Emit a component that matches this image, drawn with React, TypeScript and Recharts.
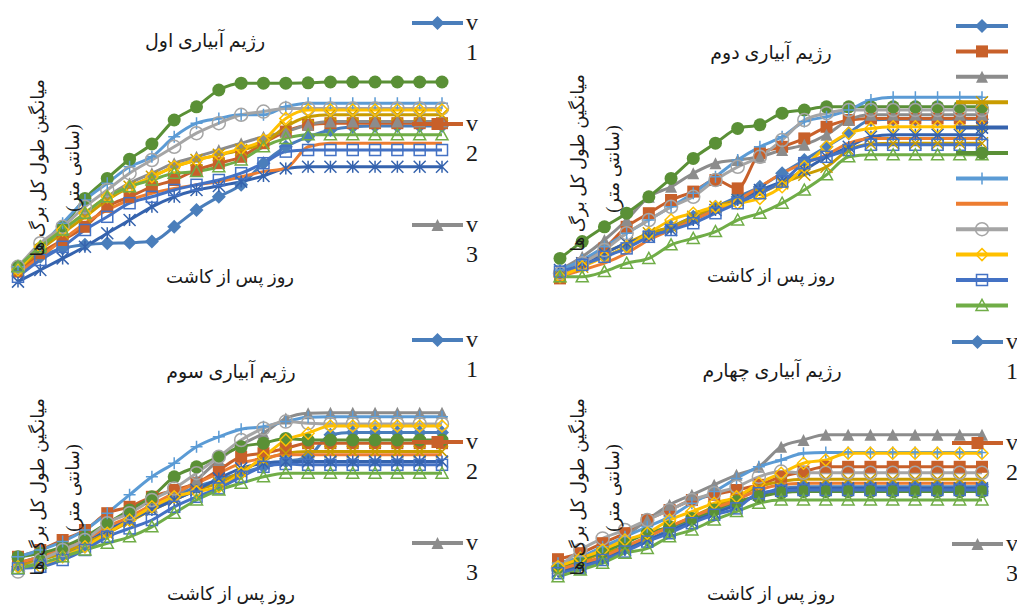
import { Line, LineChart, XAxis, YAxis } from "recharts";

// days after planting (axis labels are not shown in the figure)
const days = ["1", "2", "3", "4", "5", "6", "7", "8", "9", "10", "11", "12", "13", "14", "15", "16", "17", "18", "19", "20"];

// ---- irrigation regime 1 (mean total leaf length, cm)
const r1v1 = [4.6, 8.3, 10.4, 11.3, 11.7, 11.8, 12.1, 15.8, 20.0, 23.3, 26.3, 31.7, 35.8, 38.3, 40.0, 40.8, 41.0, 41.0, 41.0, 41.0];
const r1v2 = [4.6, 9.2, 12.5, 15.8, 20.8, 23.3, 25.8, 27.5, 30.0, 31.7, 33.3, 36.7, 39.6, 41.3, 41.7, 41.7, 41.7, 41.7, 41.7, 41.7];
const r1v3 = [5.8, 10.8, 15.0, 19.2, 23.3, 26.7, 29.2, 31.7, 33.3, 35.0, 36.7, 38.3, 39.6, 41.3, 42.1, 42.1, 42.1, 42.1, 42.1, 42.1];
const r1v4 = [5.0, 10.0, 14.2, 18.3, 22.5, 25.8, 28.3, 30.8, 32.5, 33.8, 35.0, 36.7, 40.8, 43.3, 43.8, 43.8, 43.8, 43.8, 43.8, 43.8];
const r1v5 = [2.1, 5.0, 7.9, 10.8, 14.2, 17.5, 20.8, 23.3, 25.0, 26.0, 27.1, 28.5, 30.4, 30.8, 30.8, 30.8, 30.8, 30.8, 30.8, 30.8];
const r1v6 = [5.8, 10.4, 15.8, 22.9, 27.9, 32.7, 36.5, 42.5, 45.8, 50.0, 51.7, 51.7, 51.7, 51.8, 52.0, 52.0, 52.0, 52.0, 52.0, 52.0];
const r1v7 = [5.8, 10.8, 16.7, 22.5, 26.7, 30.8, 33.3, 38.3, 41.7, 42.9, 43.8, 43.8, 45.8, 46.7, 46.7, 46.7, 46.7, 46.7, 46.7, 46.7];
const r1v8 = [4.2, 8.3, 12.5, 16.7, 20.0, 22.5, 24.2, 25.4, 26.3, 27.1, 28.3, 29.6, 30.4, 35.8, 36.7, 36.7, 36.7, 36.7, 36.7, 36.7];
const r1v9 = [5.8, 11.7, 15.8, 20.8, 25.0, 29.2, 32.5, 35.8, 39.2, 41.7, 43.8, 44.6, 45.4, 45.4, 45.4, 45.4, 45.4, 45.4, 45.4, 45.4];
const r1v10 = [5.0, 10.8, 15.0, 19.2, 23.3, 25.8, 28.3, 30.8, 32.5, 33.8, 35.4, 37.5, 42.9, 45.0, 45.0, 45.0, 45.0, 45.0, 45.0, 45.0];
const r1v11 = [3.3, 7.5, 10.8, 15.0, 18.3, 21.7, 23.3, 25.0, 26.3, 27.5, 29.2, 31.7, 34.6, 35.0, 35.0, 35.0, 35.0, 35.0, 35.0, 35.0];
const r1v12 = [5.8, 10.8, 15.0, 19.2, 23.3, 25.8, 27.5, 29.2, 29.6, 30.8, 32.5, 35.8, 37.9, 38.8, 38.8, 38.8, 38.8, 38.8, 38.8, 38.8];

// ---- irrigation regime 2
const r2v1 = [4.2, 6.3, 8.3, 10.8, 13.8, 15.8, 18.3, 20.8, 23.3, 25.8, 29.2, 32.5, 35.8, 39.2, 42.5, 42.7, 42.7, 42.7, 42.7, 42.7];
const r2v2 = [2.9, 6.7, 10.4, 15.8, 19.2, 22.5, 24.6, 27.5, 25.4, 34.2, 35.8, 37.9, 40.8, 42.5, 42.9, 42.9, 42.9, 42.9, 42.9, 42.9];
const r2v3 = [5.0, 8.3, 12.5, 17.5, 23.3, 25.8, 29.2, 31.7, 32.5, 33.3, 35.0, 36.3, 38.8, 42.5, 43.8, 43.8, 43.8, 43.8, 43.8, 43.8];
const r2v4 = [3.3, 5.8, 9.2, 11.7, 14.2, 15.8, 18.3, 20.8, 22.5, 24.2, 26.7, 28.8, 30.8, 35.0, 36.5, 36.7, 36.7, 36.7, 36.7, 36.7];
const r2v5 = [5.0, 6.7, 9.2, 11.7, 13.3, 15.0, 17.5, 20.0, 22.5, 25.0, 27.1, 30.0, 33.3, 35.8, 38.3, 38.8, 38.8, 38.8, 38.8, 38.8];
const r2v6 = [7.9, 12.1, 15.8, 19.2, 23.3, 27.9, 32.9, 36.7, 40.4, 41.3, 44.2, 45.0, 45.8, 45.8, 45.8, 45.8, 45.8, 45.8, 45.8, 45.8];
const r2v7 = [5.0, 7.5, 10.8, 14.2, 17.5, 20.8, 24.2, 28.3, 32.5, 35.8, 38.3, 42.1, 43.3, 45.0, 47.5, 48.2, 48.2, 48.2, 48.2, 48.2];
const r2v8 = [3.3, 5.0, 6.7, 9.2, 12.5, 15.0, 17.5, 20.0, 22.5, 25.8, 29.2, 31.7, 33.8, 36.7, 37.9, 37.9, 37.9, 37.9, 37.9, 37.9];
const r2v9 = [4.2, 6.7, 10.0, 14.2, 17.5, 20.8, 23.3, 27.5, 30.8, 33.3, 37.5, 42.5, 44.2, 45.0, 45.0, 45.0, 45.0, 45.0, 45.0, 45.0];
const r2v10 = [3.3, 5.8, 8.3, 10.8, 14.2, 17.5, 19.2, 20.8, 21.7, 22.9, 25.8, 30.8, 35.8, 39.2, 40.4, 40.8, 40.8, 40.8, 40.8, 40.8];
const r2v11 = [4.6, 6.3, 8.3, 10.4, 13.3, 15.0, 16.7, 19.2, 21.7, 24.2, 27.1, 31.7, 33.3, 35.0, 36.3, 36.3, 36.3, 36.3, 36.3, 36.3];
const r2v12 = [3.3, 3.3, 4.6, 6.7, 7.9, 11.3, 12.9, 14.6, 17.5, 19.2, 21.7, 25.0, 28.8, 33.3, 33.8, 33.8, 33.8, 33.8, 33.8, 33.8];

// ---- irrigation regime 3
const r3v1 = [10.3, 12.0, 13.7, 15.3, 18.7, 22.0, 25.3, 27.8, 30.3, 32.0, 33.7, 35.3, 36.6, 37.8, 43.3, 43.9, 43.9, 43.9, 43.9, 43.9];
const r3v2 = [12.8, 14.5, 17.0, 19.5, 23.7, 25.3, 27.8, 29.5, 31.2, 34.5, 37.8, 38.7, 39.9, 41.2, 41.2, 41.2, 41.2, 41.2, 41.2, 41.2];
const r3v3 = [11.2, 12.8, 15.3, 17.0, 19.5, 22.8, 25.3, 27.8, 32.0, 37.0, 40.8, 43.7, 47.4, 48.7, 48.8, 48.8, 48.8, 48.8, 48.8, 48.8];
const r3v4 = [10.8, 12.0, 13.7, 16.2, 18.7, 21.6, 24.5, 27.0, 29.5, 31.2, 34.1, 37.0, 38.7, 39.1, 39.1, 39.1, 39.1, 39.1, 39.1, 39.1];
const r3v5 = [11.2, 12.8, 14.5, 17.0, 19.5, 22.0, 24.5, 27.0, 29.5, 32.4, 34.9, 36.2, 36.6, 36.6, 36.6, 36.6, 36.6, 36.6, 36.6, 36.6];
const r3v6 = [12.8, 13.7, 15.3, 17.8, 21.2, 24.5, 27.8, 32.8, 35.3, 37.8, 40.3, 41.2, 42.4, 42.0, 42.0, 42.0, 42.0, 42.0, 42.0, 42.0];
const r3v7 = [12.8, 14.5, 16.6, 19.5, 23.7, 28.3, 32.8, 36.2, 40.3, 42.8, 44.7, 45.3, 46.6, 47.7, 47.8, 47.8, 47.8, 47.8, 47.8, 47.8];
const r3v8 = [11.2, 12.8, 14.5, 17.0, 20.3, 22.8, 25.8, 28.7, 31.2, 33.7, 36.2, 37.4, 38.3, 38.3, 38.3, 38.3, 38.3, 38.3, 38.3, 38.3];
const r3v9 = [9.1, 12.0, 14.5, 17.0, 21.2, 23.7, 27.0, 29.9, 33.7, 37.8, 42.0, 44.9, 46.6, 46.2, 46.0, 46.0, 46.0, 46.0, 46.0, 46.0];
const r3v10 = [10.3, 10.3, 12.8, 15.3, 18.7, 22.0, 25.3, 27.8, 29.1, 30.3, 33.7, 37.8, 42.0, 43.7, 45.5, 45.5, 45.5, 45.5, 45.5, 45.5];
const r3v11 = [9.9, 10.3, 12.0, 14.5, 17.8, 19.9, 22.0, 25.3, 27.8, 29.9, 32.8, 35.3, 36.0, 35.8, 35.8, 35.8, 35.8, 35.8, 35.8, 35.8];
const r3v12 = [9.9, 11.2, 12.8, 14.5, 16.2, 17.8, 20.3, 23.7, 27.0, 29.5, 31.2, 32.8, 33.7, 33.7, 33.7, 33.7, 33.7, 33.7, 33.7, 33.7];

// ---- irrigation regime 4
const r4v1 = [9.5, 10.8, 12.8, 14.9, 17.0, 19.5, 22.0, 24.1, 26.2, 28.3, 29.9, 30.3, 30.3, 30.3, 30.3, 30.3, 30.3, 30.3, 30.3, 30.3];
const r4v2 = [12.2, 13.7, 16.2, 18.7, 22.0, 24.5, 27.0, 28.3, 29.5, 30.8, 32.8, 34.1, 35.3, 35.3, 35.3, 35.3, 35.3, 35.3, 35.3, 35.3];
const r4v3 = [10.3, 12.0, 14.5, 17.8, 22.0, 25.8, 28.3, 30.8, 33.3, 35.3, 40.3, 42.0, 43.3, 43.3, 43.3, 43.3, 43.3, 43.3, 43.3, 43.3];
const r4v4 = [9.9, 11.6, 13.7, 15.3, 17.8, 20.3, 22.8, 25.3, 27.8, 30.3, 31.6, 32.2, 32.2, 32.2, 32.2, 32.2, 32.2, 32.2, 32.2, 32.2];
const r4v5 = [9.1, 10.3, 12.4, 14.5, 17.0, 19.1, 21.6, 23.7, 25.8, 28.3, 29.5, 29.9, 29.9, 29.9, 29.9, 29.9, 29.9, 29.9, 29.9, 29.9];
const r4v6 = [9.9, 12.0, 14.1, 16.2, 18.7, 20.3, 22.4, 24.5, 26.6, 27.8, 28.8, 29.1, 29.1, 29.1, 29.1, 29.1, 29.1, 29.1, 29.1, 29.1];
const r4v7 = [11.2, 12.8, 15.3, 17.8, 20.3, 22.8, 26.2, 29.1, 32.4, 35.3, 37.0, 38.7, 38.9, 38.9, 38.9, 38.9, 38.9, 38.9, 38.9, 38.9];
const r4v8 = [9.5, 11.2, 12.8, 15.3, 17.8, 20.3, 22.8, 24.9, 27.0, 29.5, 30.8, 31.2, 31.2, 31.2, 31.2, 31.2, 31.2, 31.2, 31.2, 31.2];
const r4v9 = [9.9, 14.5, 17.4, 19.5, 22.0, 24.5, 27.0, 28.7, 30.3, 32.8, 34.1, 33.8, 33.8, 33.8, 33.8, 33.8, 33.8, 33.8, 33.8, 33.8];
const r4v10 = [10.3, 12.4, 14.5, 17.0, 18.7, 22.0, 24.1, 26.2, 27.8, 31.2, 33.7, 36.2, 37.0, 38.7, 38.7, 38.7, 38.7, 38.7, 38.7, 38.7];
const r4v11 = [8.7, 9.9, 12.0, 14.1, 16.6, 18.7, 21.2, 23.3, 24.9, 28.7, 29.3, 29.5, 29.5, 29.5, 29.5, 29.5, 29.5, 29.5, 29.5, 29.5];
const r4v12 = [7.8, 9.5, 11.2, 13.7, 14.9, 17.8, 19.5, 22.0, 24.1, 26.2, 27.0, 27.0, 27.0, 27.0, 27.0, 27.0, 27.0, 27.0, 27.0, 27.0];

const regimeTitles = ["رژیم آبیاری اول", "رژیم آبیاری دوم", "رژیم آبیاری سوم", "رژیم آبیاری چهارم"];
const xTitle = "روز پس از کاشت";
const yTitle1 = "میانگین طول کل برگ ها";
const yTitle2 = "(سانتی متر)";

type Shape =
  | "diamond" | "square" | "triangle" | "x" | "star" | "circle"
  | "plus" | "none" | "ocircle" | "odiamond" | "osquare" | "otriangle";

const SERIES: { key: string; label: string; color: string; shape: Shape }[] = [
  { key: "v1", label: "v 1", color: "#4A7EBB", shape: "diamond" },
  { key: "v2", label: "v 2", color: "#C8602A", shape: "square" },
  { key: "v3", label: "v 3", color: "#8C8C8C", shape: "triangle" },
  { key: "v4", label: "v 4", color: "#C99C00", shape: "x" },
  { key: "v5", label: "v 5", color: "#3563AE", shape: "star" },
  { key: "v6", label: "v 6", color: "#5A9036", shape: "circle" },
  { key: "v7", label: "v 7", color: "#5B9BD5", shape: "plus" },
  { key: "v8", label: "v 8", color: "#ED7D31", shape: "none" },
  { key: "v9", label: "v 9", color: "#A5A5A5", shape: "ocircle" },
  { key: "v10", label: "v 10", color: "#FFC000", shape: "odiamond" },
  { key: "v11", label: "v 11", color: "#4472C4", shape: "osquare" },
  { key: "v12", label: "v 12", color: "#70AD47", shape: "otriangle" },
];

function buildRows(series: number[][]) {
  return days.map((day, i) => {
    const row: Record<string, string | number> = { day };
    SERIES.forEach((s, j) => {
      row[s.key] = series[j][i];
    });
    return row;
  });
}

const rows1 = buildRows([r1v1, r1v2, r1v3, r1v4, r1v5, r1v6, r1v7, r1v8, r1v9, r1v10, r1v11, r1v12]);
const rows2 = buildRows([r2v1, r2v2, r2v3, r2v4, r2v5, r2v6, r2v7, r2v8, r2v9, r2v10, r2v11, r2v12]);
const rows3 = buildRows([r3v1, r3v2, r3v3, r3v4, r3v5, r3v6, r3v7, r3v8, r3v9, r3v10, r3v11, r3v12]);
const rows4 = buildRows([r4v1, r4v2, r4v3, r4v4, r4v5, r4v6, r4v7, r4v8, r4v9, r4v10, r4v11, r4v12]);

const PERSIAN_FONT = "'Times New Roman', 'Liberation Serif', 'DejaVu Sans', serif";

function Marker({ shape, cx, cy, color }: { shape: Shape; cx: number; cy: number; color: string }) {
  const s = 6;
  const sw = 1.5;
  switch (shape) {
    case "diamond":
      return <polygon points={`${cx},${cy - s - 1} ${cx + s + 1},${cy} ${cx},${cy + s + 1} ${cx - s - 1},${cy}`} fill={color} />;
    case "square":
      return <rect x={cx - s} y={cy - s} width={2 * s} height={2 * s} fill={color} />;
    case "triangle":
      return <polygon points={`${cx},${cy - s} ${cx + s},${cy + s} ${cx - s},${cy + s}`} fill={color} />;
    case "x":
      return (
        <path d={`M${cx - s},${cy - s}L${cx + s},${cy + s}M${cx - s},${cy + s}L${cx + s},${cy - s}`} stroke={color} strokeWidth={sw} fill="none" />
      );
    case "star":
      return (
        <path
          d={`M${cx - s},${cy - s}L${cx + s},${cy + s}M${cx - s},${cy + s}L${cx + s},${cy - s}M${cx},${cy - s}L${cx},${cy + s}`}
          stroke={color}
          strokeWidth={sw}
          fill="none"
        />
      );
    case "circle":
      return <circle cx={cx} cy={cy} r={s + 0.5} fill={color} />;
    case "plus":
      return <path d={`M${cx},${cy - s}L${cx},${cy + s}M${cx - s},${cy}L${cx + s},${cy}`} stroke={color} strokeWidth={sw} fill="none" />;
    case "ocircle":
      return <circle cx={cx} cy={cy} r={s + 0.5} fill="none" stroke={color} strokeWidth={sw} />;
    case "odiamond":
      return (
        <polygon points={`${cx},${cy - s} ${cx + s},${cy} ${cx},${cy + s} ${cx - s},${cy}`} fill="none" stroke={color} strokeWidth={sw} />
      );
    case "osquare":
      return <rect x={cx - s + 0.5} y={cy - s + 0.5} width={2 * s - 1} height={2 * s - 1} fill="none" stroke={color} strokeWidth={sw} />;
    case "otriangle":
      return (
        <polygon points={`${cx},${cy - s} ${cx + s},${cy + s - 1} ${cx - s},${cy + s - 1}`} fill="none" stroke={color} strokeWidth={sw} />
      );
    default:
      return null;
  }
}

function Panel({
  left,
  top,
  marginLeft,
  rows,
}: {
  left: number;
  top: number;
  marginLeft: number;
  rows: Record<string, string | number>[];
}) {
  return (
    <div style={{ position: "absolute", left, top }}>
      <LineChart width={460} height={300} data={rows} margin={{ top: 50, right: 18, bottom: 10, left: marginLeft }}>
        <XAxis dataKey="day" hide />
        <YAxis hide domain={[0, 60]} />
        {SERIES.map((s) => (
          <Line
            key={s.key}
            dataKey={s.key}
            type="monotone"
            stroke={s.color}
            strokeWidth={3}
            activeDot={false}
            isAnimationActive={false}
            dot={(p: any) => (
              <g key={`${s.key}-${p.index}`}>
                <Marker shape={s.shape} cx={p.cx} cy={p.cy} color={s.color} />
              </g>
            )}
          />
        ))}
      </LineChart>
    </div>
  );
}

function Label({ x, y, text, size = 18, rotate = false }: { x: number; y: number; text: string; size?: number; rotate?: boolean }) {
  return (
    <div
      dir="rtl"
      style={{
        position: "absolute",
        left: x,
        top: y,
        transform: `translate(-50%, -50%)${rotate ? " rotate(-90deg)" : ""}`,
        fontFamily: PERSIAN_FONT,
        fontSize: size,
        color: "#1a1a1a",
        whiteSpace: "nowrap",
        lineHeight: 1,
      }}
    >
      {text}
    </div>
  );
}

function LegendEntry({ x1, x2, y, idx }: { x1: number; x2: number; y: number; idx: number }) {
  const s = SERIES[idx];
  return (
    <g>
      <line x1={x1} x2={x2} y1={y} y2={y} stroke={s.color} strokeWidth={4} />
      <Marker shape={s.shape} cx={(x1 + x2) / 2} cy={y} color={s.color} />
    </g>
  );
}

function LegendText({ x, y, n }: { x: number; y: number; n: string }) {
  return (
    <>
      <text x={x} y={y + 7} fontFamily="'Liberation Serif', serif" fontSize={24} fill="#1a1a1a" textAnchor="middle">
        v
      </text>
      <text x={x} y={y + 37} fontFamily="'Liberation Serif', serif" fontSize={24} fill="#1a1a1a" textAnchor="middle">
        {n}
      </text>
    </>
  );
}

export default function App() {
  const leftY = [23, 124, 225];
  const leftY3 = [340, 442, 543];
  const rightY4 = [342, 443, 544];
  return (
    <div style={{ position: "absolute", left: 0, top: 0, width: 1017, height: 606, background: "#fff", overflow: "hidden" }}>
      <Panel left={0} top={0} marginLeft={18} rows={rows1} />
      <Panel left={540} top={0} marginLeft={20} rows={rows2} />
      <Panel left={0} top={318} marginLeft={18} rows={rows3} />
      <Panel left={540} top={318} marginLeft={18} rows={rows4} />

      <Label x={205} y={40} text={regimeTitles[0]} size={19} />
      <Label x={771} y={52} text={regimeTitles[1]} size={19} />
      <Label x={231} y={371} text={regimeTitles[2]} size={19} />
      <Label x={772} y={370} text={regimeTitles[3]} size={19} />

      <Label x={230} y={277} text={xTitle} />
      <Label x={771} y={276} text={xTitle} />
      <Label x={231} y={594} text={xTitle} />
      <Label x={771} y={594} text={xTitle} />

      <Label x={38} y={168} text={yTitle1} rotate />
      <Label x={73} y={168} text={yTitle2} rotate />
      <Label x={578} y={163} text={yTitle1} rotate />
      <Label x={613} y={169} text={yTitle2} rotate />
      <Label x={38} y={487} text={yTitle1} rotate />
      <Label x={73} y={488} text={yTitle2} rotate />
      <Label x={578} y={487} text={yTitle1} rotate />
      <Label x={613} y={488} text={yTitle2} rotate />

      <svg width={1017} height={606} style={{ position: "absolute", left: 0, top: 0, pointerEvents: "none" }}>
        {leftY.map((y, i) => (
          <g key={`a${i}`}>
            <LegendEntry x1={412} x2={463} y={y} idx={i} />
            <LegendText x={472} y={y} n={String(i + 1)} />
          </g>
        ))}
        {SERIES.map((_, i) => (
          <LegendEntry key={`b${i}`} x1={956} x2={1008} y={26 + 25.4 * i} idx={i} />
        ))}
        {leftY3.map((y, i) => (
          <g key={`c${i}`}>
            <LegendEntry x1={412} x2={463} y={y} idx={i} />
            <LegendText x={472} y={y} n={String(i + 1)} />
          </g>
        ))}
        {rightY4.map((y, i) => (
          <g key={`d${i}`}>
            <LegendEntry x1={952} x2={1003} y={y} idx={i} />
            <LegendText x={1012} y={y} n={String(i + 1)} />
          </g>
        ))}
      </svg>
    </div>
  );
}
